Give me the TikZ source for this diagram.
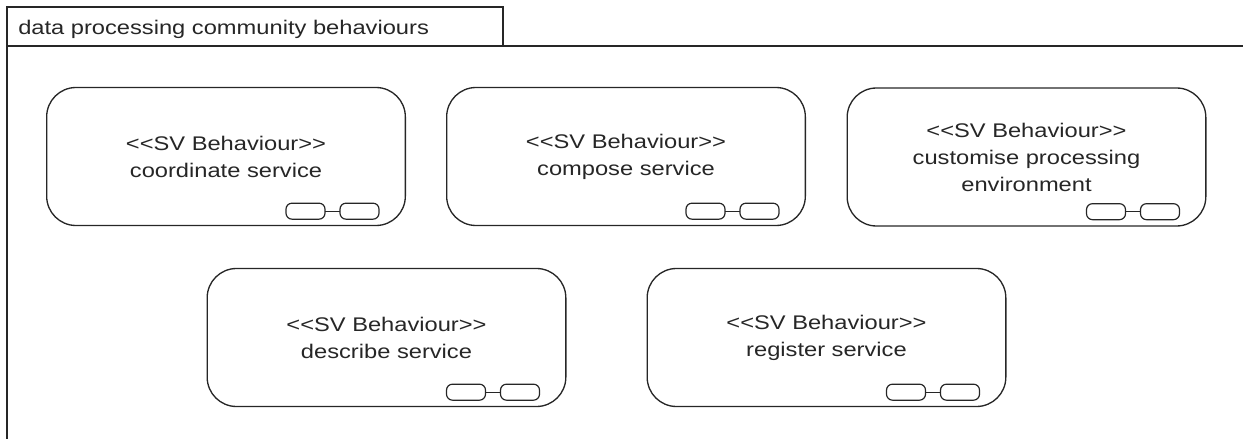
\documentclass[tikz,border=0pt]{standalone}
\usepackage{fontspec}
\setmainfont{Liberation Sans}[FakeStretch=1.2]
\newcommand{\stype}{<\kern0pt<SV Behaviour>\kern0pt>}
\begin{document}
\begin{tikzpicture}
    [x=0.75pt, y=-0.75pt,
 label text/.style ={text=black!85, inner sep=0pt, font=\fontsize{14.8}{20.25}\selectfont},
 behaviour/.style ={rectangle, draw=black!85, line width=1pt, rounded corners=22pt, minimum width=269pt, minimum height=103.5pt, align=center, label text},
 frameline/.style ={draw=black!85, line width=1pt},
 portlink/.pic ={\draw[black!85, line width=0.9pt, rounded corners=4.5pt] (-93,0) rectangle (-54,-16) (-39,0) rectangle (0,-16);
                 \draw[black!85, line width=0.9pt] (-54,-8) -- (-39,-8);}]
        \useasboundingbox (0,0) rectangle (1243,439);
        \draw[frameline] (7,7) rectangle (503,46);
        \draw[frameline] (7,439) -- (7,46) -- (1243,46);
        \node[label text, anchor=base west] (title) at (18,35) {data processing community behaviours};
        \node[behaviour] (coordinate) at (226,156.5) {\stype\\coordinate service};
        \node[behaviour] (compose) at (626,156.5) {\stype\\compose service};
        \node[behaviour] (customise) at (1026.5,157) {\stype\\customise processing\\environment};
        \node[behaviour] (describe) at (386.5,337.5) {\stype\\describe service};
        \node[behaviour] (register) at (826.5,337.5) {\stype\\register service};
        \foreach \b in {coordinate,compose,customise,describe,register}
            \pic at ([shift={(-27,-7)}]\b.south east) {portlink};
    \end{tikzpicture}
\end{document}
